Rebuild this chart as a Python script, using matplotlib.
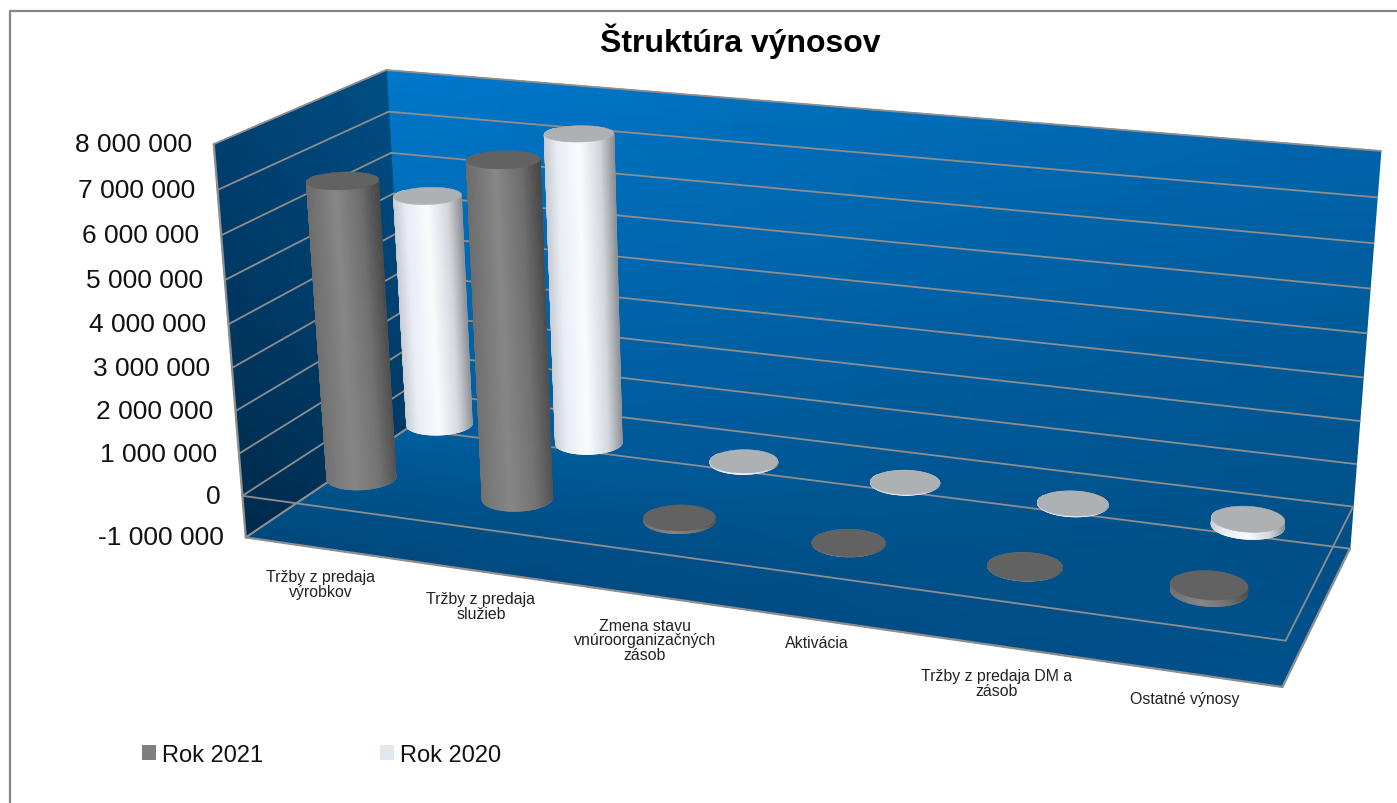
import numpy as np
import matplotlib
matplotlib.use("Agg")
import matplotlib.pyplot as plt
from matplotlib.colors import LinearSegmentedColormap, to_rgb
from matplotlib.patches import Patch, Polygon

# ============================================================
# DATOS
# ============================================================

categories = [
    "Tržby z predaja\nvýrobkov",
    "Tržby z predaja\nslužieb",
    "Zmena stavu\nvnúroorganizačných\nzásob",
    "Aktivácia",
    "Tržby z predaja DM a\nzásob",
    "Ostatné výnosy",
]
rok_2021 = [6900000, 7700000, 60000, 6000, 6000, 140000]
rok_2020 = [5600000, 7380000, 30000, 15000, 15000, 160000]
value_ticks = [8000000, 7000000, 6000000, 5000000, 4000000,
               3000000, 2000000, 1000000, 0, -1000000]
tick_labels = ["8 000 000", "7 000 000", "6 000 000", "5 000 000", "4 000 000",
               "3 000 000", "2 000 000", "1 000 000", "0", "-1 000 000"]

# ============================================================
# ESTILO
# ============================================================

W, H = 1397, 804
FONT = "Liberation Sans"
GRID = "#8e8e8e"
VAL_MIN, VAL_MAX = -1000000, 8000000

# posiciones de los rótulos de categoría (centro, en píxeles)
CAT_LABEL_XY = [(321, 585), (481, 607), (645, 641), (817, 644), (997, 684), (1185, 700)]

DEPTH_2021, DEPTH_2020 = 0.25, 0.75
RADIUS_X, RADIUS_Y = 0.2, 0.1

grey_side = LinearSegmentedColormap.from_list(
    "grey_side", [(0, "#6a6a6a"), (0.4, "#888888"), (0.75, "#6c6c6c"), (1, "#3f3f3f")])
white_side = LinearSegmentedColormap.from_list(
    "white_side", [(0, "#c8ccd2"), (0.18, "#e8ecf4"), (0.5, "#fafcff"),
                   (0.8, "#d2d6dc"), (1, "#8b8f94")])
GREY_CAP, WHITE_CAP = "#626262", "#adb1b4"

# ============================================================
# PROYECCIÓN DE LA CAJA 3D (categoría, profundidad, valor) -> píxel
# ============================================================

box_anchors = [
    # (x, profundidad, millones) -> píxel
    ((0, 0, -1), (245, 538)), ((0, 0, 0), (243, 497)), ((0, 0, 8), (214, 145)),
    ((0, 1, -1), (407, 430)), ((0, 1, 8), (386, 71)),
    ((6, 1, -1), (1350, 549)), ((6, 1, 0), (1353, 508)), ((6, 1, 8), (1381, 152)),
    ((6, 0, -1), (1283, 688)), ((6, 0, 0), (1285, 642)),
]


def fit_projection(anchors):
    rows = []
    for (x, y, z), (u, v) in anchors:
        p = [x, y, z, 1]
        rows.append(p + [0, 0, 0, 0] + [-u * c for c in p])
        rows.append([0, 0, 0, 0] + p + [-v * c for c in p])
    _, _, vt = np.linalg.svd(np.array(rows, dtype=float))
    return vt[-1].reshape(3, 4)


P = fit_projection(box_anchors)


def project(x, y, value):
    x, y, value = np.broadcast_arrays(x, y, np.asarray(value, dtype=float) / 1e6)
    pts = np.stack([x, y, value, np.ones_like(x, dtype=float)], axis=-1)
    q = pts @ P.T
    return q[..., 0] / q[..., 2], q[..., 1] / q[..., 2]


# ============================================================
# FUNCIONES DE DIBUJO
# ============================================================

def draw_wall(ax, x, y, value, corner_colors, z):
    # x, y, value son matrices 2x2 con las esquinas; degradado bilineal entre ellas
    s = np.linspace(0, 1, 9)
    a, b = np.meshgrid(s, s)

    def blend(m):
        m = np.asarray(m, dtype=float)
        return (m[0, 0] * (1 - a) * (1 - b) + m[0, 1] * a * (1 - b)
                + m[1, 0] * (1 - a) * b + m[1, 1] * a * b)

    px, py = project(blend(x), blend(y), blend(value))
    rgb = np.zeros(a.shape + (3,))
    for i in range(3):
        rgb[..., i] = blend([[to_rgb(corner_colors[0][0])[i], to_rgb(corner_colors[0][1])[i]],
                             [to_rgb(corner_colors[1][0])[i], to_rgb(corner_colors[1][1])[i]]])
    ax.pcolormesh(px, py, rgb, shading="gouraud", zorder=z)


def draw_edge(ax, p0, p1, z=3, lw=1.3, color=GRID):
    px, py = project(np.array([p0[0], p1[0]]), np.array([p0[1], p1[1]]),
                     np.array([p0[2], p1[2]]))
    ax.plot(px, py, color=color, lw=lw, zorder=z, solid_capstyle="round")


def draw_cylinder(ax, x, depth, value, cmap, cap, flatten, z):
    # contorno completo de la base y de la tapa
    t_full = np.linspace(0, 2 * np.pi, 145)
    fx = x + RADIUS_X * np.cos(t_full)
    fy = depth + RADIUS_Y * np.sin(t_full)
    bx_full, by_full = project(fx, fy, 0)
    tx_full, ty_full = project(fx, fy, value)

    # mitad delantera del costado como malla con degradado horizontal
    t = np.linspace(np.pi - 0.35, 2 * np.pi + 0.35, 61)
    cx = x + RADIUS_X * np.cos(t)
    cy = depth + RADIUS_Y * np.sin(t)
    bx, by = project(cx, cy, 0)
    tx, ty = project(cx, cy, value)
    u = np.clip((tx - tx_full.min()) / (tx_full.max() - tx_full.min()), 0, 1)
    top_rgb = cmap(u)[:, :3]
    edge_tone = np.array(cmap(0.45)[:3])
    # hacia la base el degradado pierde contraste
    bottom_rgb = (1 - flatten) * top_rgb + flatten * edge_tone

    ax.add_patch(Polygon(np.column_stack([bx_full, by_full]), closed=True,
                         facecolor=edge_tone, edgecolor=edge_tone, linewidth=0.8, zorder=z))
    ax.pcolormesh(np.vstack([bx, tx]), np.vstack([by, ty]),
                  np.stack([bottom_rgb, top_rgb]), shading="gouraud", zorder=z + 0.01)
    ax.add_patch(Polygon(np.column_stack([tx_full, ty_full]), closed=True, facecolor=cap,
                         edgecolor=cap, linewidth=0.4, zorder=z + 0.02))


# ============================================================
# FUNCIÓN PRINCIPAL
# ============================================================

def main():
    fig = plt.figure(figsize=(W / 100, H / 100), dpi=100, facecolor="white")
    ax = fig.add_axes([0, 0, 1, 1])
    ax.set_xlim(0, W)
    ax.set_ylim(H, 0)
    ax.axis("off")

    # marco del gráfico
    ax.plot([10, 10, W], [H, 12, 12], color="#868686", lw=1.6, zorder=1)

    # paredes y piso
    draw_wall(ax, [[0, 6], [0, 6]], [[1, 1], [1, 1]],
              [[VAL_MAX, VAL_MAX], [VAL_MIN, VAL_MIN]],
              [["#0078cb", "#0063a9"], ["#005c9f", "#004f86"]], 2)
    draw_wall(ax, [[0, 0], [0, 0]], [[0, 1], [0, 1]],
              [[VAL_MAX, VAL_MAX], [VAL_MIN, VAL_MIN]],
              [["#003f6e", "#004f86"], ["#002a4c", "#003a66"]], 2)
    draw_wall(ax, [[0, 6], [0, 6]], [[1, 1], [0, 0]],
              [[VAL_MIN, VAL_MIN], [VAL_MIN, VAL_MIN]],
              [["#005f9f", "#004f86"], ["#00487c", "#00508c"]], 2)

    # líneas de la cuadrícula
    for v in value_ticks:
        draw_edge(ax, (0, 1, v), (6, 1, v))
        draw_edge(ax, (0, 0, v), (0, 1, v))
    draw_edge(ax, (0, 0, VAL_MIN), (0, 0, VAL_MAX), lw=1.6)
    draw_edge(ax, (0, 0, VAL_MIN), (6, 0, VAL_MIN), lw=1.6)
    draw_edge(ax, (6, 0, VAL_MIN), (6, 1, VAL_MIN), lw=1.6)
    draw_edge(ax, (0, 0, VAL_MIN), (0, 1, VAL_MIN))
    # plano del valor cero
    draw_edge(ax, (0, 0, 0), (6, 0, 0))
    draw_edge(ax, (6, 0, 0), (6, 1, 0))

    # cilindros: la serie de atrás primero
    for i, v in enumerate(rok_2020):
        draw_cylinder(ax, i + 0.5, DEPTH_2020, v, white_side, WHITE_CAP, 0.12, 4 + i * 0.1)
    for i, v in enumerate(rok_2021):
        draw_cylinder(ax, i + 0.5, DEPTH_2021, v, grey_side, GREY_CAP, 0.45, 5 + i * 0.1)

    # rótulos del eje de valores
    for v, label in zip(value_ticks, tick_labels):
        px, py = project(0.0, 0.0, v)
        ax.text(float(px) - 22, float(py), label, ha="right", va="center",
                family=FONT, fontsize=19, color="#111111", zorder=7)

    # rótulos de categorías
    for label, (cx, cy) in zip(categories, CAT_LABEL_XY):
        ax.text(cx, cy, label, ha="center", va="center", family=FONT, fontsize=11.4,
                color="#222222", linespacing=0.98, zorder=7)

    ax.text(740, 41, "Štruktúra výnosov", ha="center", va="center", family=FONT,
            fontsize=23, fontweight="bold", color="black", zorder=7)

    handles = [Patch(facecolor="#7f7f7f", label="Rok 2021"),
               Patch(facecolor="#e3e8f0", label="Rok 2020")]
    ax.legend(handles=handles, ncol=2, frameon=False, loc="center left",
              bbox_to_anchor=(142 / W, 1 - 756 / H), borderpad=0, borderaxespad=0,
              prop={"family": FONT, "size": 17}, handlelength=0.6, handleheight=0.6,
              handletextpad=0.25, columnspacing=4.95, labelcolor="#111111")

    fig.savefig("out.png", dpi=100)
    plt.close(fig)


if __name__ == "__main__":
    main()
